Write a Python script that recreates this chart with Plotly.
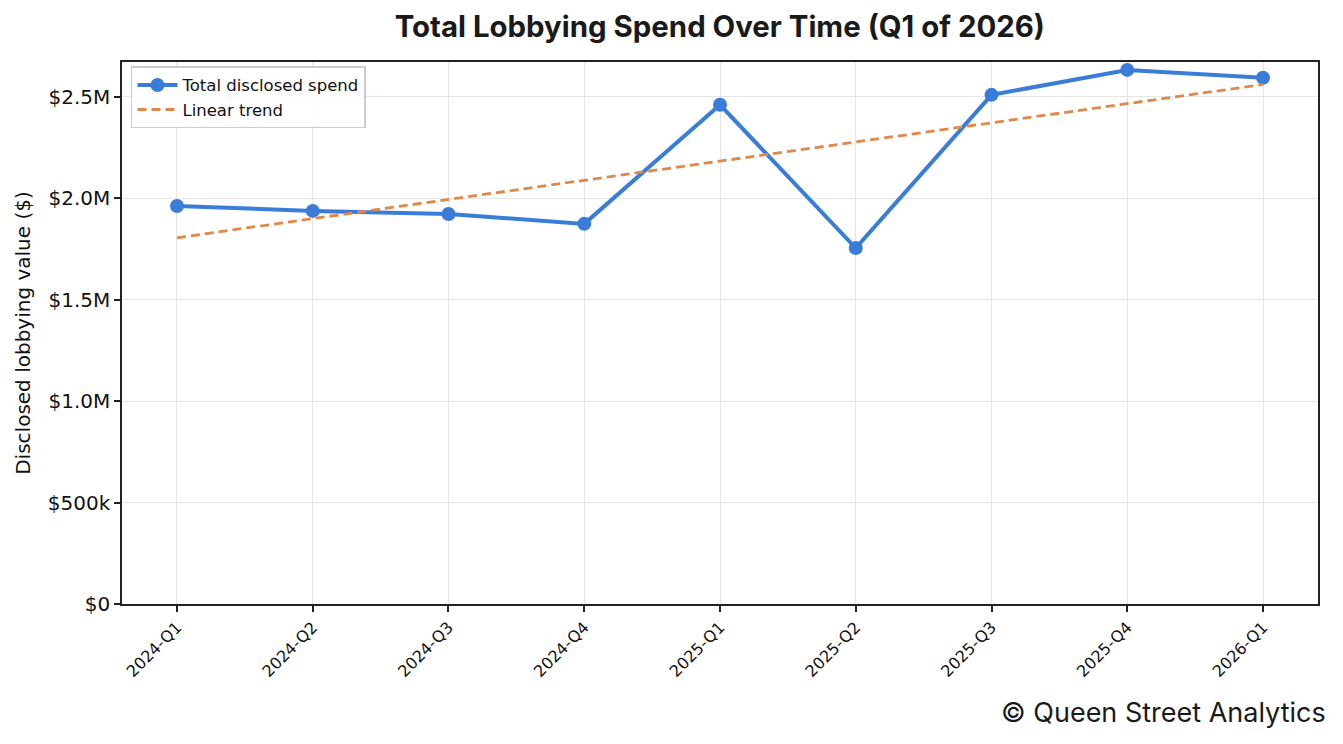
import numpy as np
import plotly.graph_objects as go

# quarterly totals (USD)
quarters = ["2024-Q1", "2024-Q2", "2024-Q3", "2024-Q4", "2025-Q1",
            "2025-Q2", "2025-Q3", "2025-Q4", "2026-Q1"]
spend = [1962000, 1938000, 1923000, 1874000, 2461000,
         1755000, 2510000, 2633000, 2594000]

y_ticks = [0, 500000, 1000000, 1500000, 2000000, 2500000]
y_tick_labels = ["$0", "$500k", "$1.0M", "$1.5M", "$2.0M", "$2.5M"]

# linear trend fitted to the quarter index
idx = np.arange(len(quarters))
slope, intercept = np.polyfit(idx, spend, 1)
trend = slope * idx + intercept

fig = go.Figure()
fig.add_trace(go.Scatter(
    x=idx, y=spend, mode="lines+markers", name="Total disclosed spend",
    line=dict(color="#3a7dd8", width=4),
    marker=dict(size=14, color="#3a7dd8"),
))
fig.add_trace(go.Scatter(
    x=idx, y=trend, mode="lines", name="Linear trend",
    line=dict(color="#e0874a", width=2.8, dash="9px,5px"),
))

axis_common = dict(
    showline=True, linecolor="#222", linewidth=1.5, mirror=True,
    ticks="outside", ticklen=6, tickwidth=1.5, tickcolor="#222",
    showgrid=True, gridcolor="#e6e6e6", gridwidth=1.3, zeroline=False,
)

fig.update_xaxes(
    range=[-0.405, 8.405], tickvals=list(idx), ticktext=quarters,
    tickangle=-45, tickfont=dict(family="DejaVu Sans", size=16, color="#111"),
    **axis_common,
)
fig.update_yaxes(
    range=[0, 2672000], tickvals=y_ticks, ticktext=y_tick_labels,
    tickfont=dict(family="DejaVu Sans", size=20, color="#111"),
    title=dict(text="Disclosed lobbying value ($)",
               font=dict(family="DejaVu Sans", size=20, color="#111"), standoff=12),
    **axis_common,
)

fig.update_layout(
    width=1343, height=744,
    paper_bgcolor="white", plot_bgcolor="white",
    margin=dict(l=114, r=33, t=54, b=148),
    title=dict(text="<b>Total Lobbying Spend Over Time (Q1 of 2026)</b>",
               x=0.530, xanchor="center", y=0.9745, yanchor="middle",
               font=dict(family="Inter", size=29.4, color="#1a1a1a")),
    legend=dict(x=0.0075, y=0.992, xanchor="left", yanchor="top",
                bgcolor="rgba(255,255,255,0.85)", bordercolor="#cccccc", borderwidth=1.5,
                font=dict(family="DejaVu Sans", size=16.5, color="#111"),
                tracegroupgap=0, itemwidth=40),
    showlegend=True,
    annotations=[dict(
        text="© Queen Street Analytics", xref="paper", yref="paper",
        x=1.0084, y=-0.201, xanchor="right", yanchor="middle", showarrow=False,
        font=dict(family="Inter", size=27, color="#1a1a1a"),
    )],
)

fig.write_html("out.html")
